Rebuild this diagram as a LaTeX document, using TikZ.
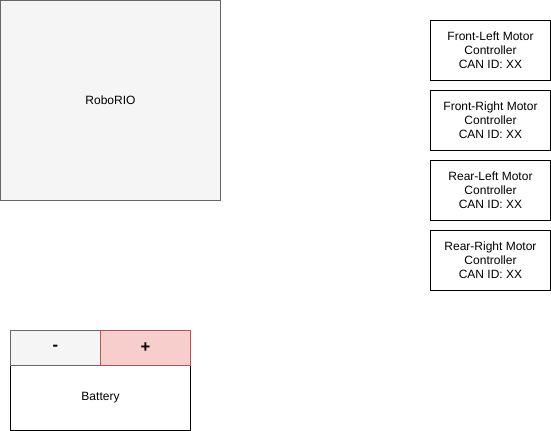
\documentclass[tikz,border=0pt]{standalone}
\usepackage{fontspec}
\setmainfont{Liberation Sans}
\definecolor{rioFill}{HTML}{F5F5F5}
\definecolor{rioLine}{HTML}{666666}
\definecolor{plusFill}{HTML}{F8CECC}
\definecolor{plusLine}{HTML}{B85450}
\tikzset{
  part/.style={draw, line width=0.75pt, inner sep=0pt, align=center,
    font=\fontsize{9}{10.5}\selectfont},
  grey part/.style={part, fill=rioFill, draw=rioLine},
  motor/.style={part, fill=white, minimum width=90pt, minimum height=45pt},
  terminal/.style={part, minimum width=67.5pt, minimum height=26.25pt,
    font=\fontsize{12.5}{14}\selectfont\bfseries}
}
\begin{document}
\begin{tikzpicture}[x=0.75pt, y=-0.75pt]
    \useasboundingbox (0, 0) rectangle (551, 431);
    \begin{scope} % Controller
      \node[grey part, minimum width=165pt, minimum height=150pt] (rio) at (110.5, 100.5) {RoboRIO};
    \end{scope}
    \begin{scope} % Motor controllers
      \node[motor] (fl) at (490.5, 50.5) {Front-Left Motor\\Controller\\CAN ID: XX};
      \node[motor] (fr) at (490.5, 120.5) {Front-Right Motor\\Controller\\CAN ID: XX};
      \node[motor] (rl) at (490.5, 190.5) {Rear-Left Motor\\Controller\\CAN ID: XX};
      \node[motor] (rr) at (490.5, 260.5) {Rear-Right Motor\\Controller\\CAN ID: XX};
    \end{scope}
    \begin{scope} % Battery
      \node[part, fill=white, minimum width=135pt, minimum height=48.75pt] (battery) at (100.5, 398) {Battery};
      \node[terminal, fill=rioFill, draw=rioLine] (minus) at (55.5, 348) {-};
      \node[terminal, fill=plusFill, draw=plusLine] (plus) at (145.5, 348) {+};
    \end{scope}
  \end{tikzpicture}
\end{document}
